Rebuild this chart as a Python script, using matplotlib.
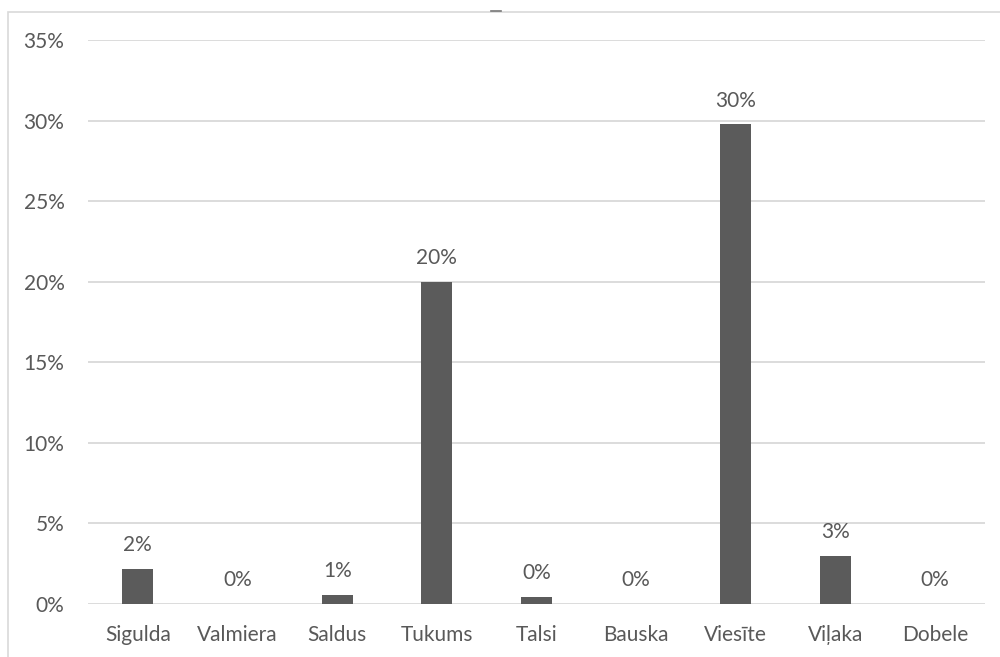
import matplotlib
matplotlib.use("Agg")
import matplotlib.pyplot as plt
from matplotlib.lines import Line2D
from matplotlib.patches import Rectangle
from matplotlib.ticker import FuncFormatter, MultipleLocator

plt.rcParams["font.family"] = ["Lato", "DejaVu Sans"]

towns = ["Sigulda", "Valmiera", "Saldus", "Tukums", "Talsi", "Bauska", "Viesīte", "Viļaka", "Dobele"]
share = [2.17, 0.0, 0.58, 20.0, 0.43, 0.0, 29.77, 2.98, 0.0]  # percent

TEXT = "#595959"
GRID = "#d9d9d9"
BAR = "#5b5b5b"
FS = 15

fig = plt.figure(figsize=(10, 6.57), dpi=100)
ax = fig.add_axes([0.088, 0.0807, 0.897, 0.8584])

x = range(len(towns))
bars = ax.bar(x, share, width=0.31, color=BAR, zorder=3)
for xi, v in zip(x, share):
    ax.annotate(f"{v:.0f}%", (xi, v), xytext=(0, 17), textcoords="offset points",
                ha="center", va="center", fontsize=FS, color=TEXT)

ax.set_xlim(-0.5, len(towns) - 0.5)
ax.set_ylim(0, 35)
ax.yaxis.set_major_locator(MultipleLocator(5))
ax.yaxis.set_major_formatter(FuncFormatter(lambda v, _: f"{v:.0f}%"))
ax.set_xticks(list(x))
ax.set_xticklabels(towns)
ax.grid(axis="y", color=GRID, linewidth=1.3, zorder=0)
for s in ax.spines.values():
    s.set_visible(False)
ax.tick_params(axis="both", length=0, labelsize=FS, colors=TEXT)
ax.tick_params(axis="y", pad=17)
ax.tick_params(axis="x", pad=15)

# chart frame and the empty title stub
fig.add_artist(Rectangle((0.008, -0.1), 1.2, 1.082, transform=fig.transFigure,
                         fill=False, edgecolor=GRID, linewidth=1.2))
fig.add_artist(Line2D([0.491, 0.501], [0.9825, 0.9825], transform=fig.transFigure,
                      color="#777777", linewidth=1.2))

fig.savefig("out.png", facecolor="white")
